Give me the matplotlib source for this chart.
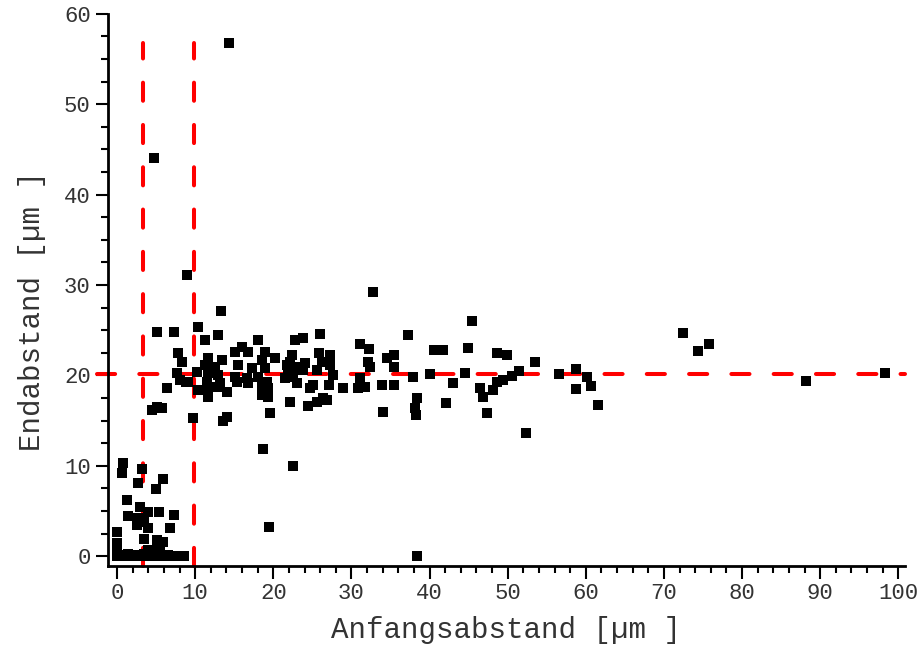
import numpy as np
import matplotlib
matplotlib.use('Agg')
import matplotlib.pyplot as plt
from matplotlib.ticker import MultipleLocator

# scatter data (start distance, end distance) in um
start_um = [
    14.3, 4.7, 9.0, 32.7, 13.3, 45.4, 72.4, 74.4, 75.7, 88.2, 98.3, 18.7, 22.5, 19.4, 38.4, 52.4,
    44.9, 44.5, 46.5, 46.8, 47.3, 48.1, 48.6, 49.9, 48.6, 49.4, 50.5, 51.5, 53.5, 56.5, 58.7, 58.7,
    60.1, 60.6, 61.5,
    43.0, 42.1, 41.7, 40.5, 40.0, 38.4, 38.1, 38.2, 37.9, 37.2, 35.5, 34.5, 35.5, 35.5, 33.9, 34.0,
    32.2, 31.1, 32.1, 32.4, 31.1, 31.7, 30.8, 28.9, 27.6, 27.2, 27.2, 27.1, 26.9, 26.0, 25.8, 26.2,
    25.6, 25.1, 24.7, 26.3, 25.6, 24.4, 23.8, 22.8, 22.4, 22.1, 21.7, 23.0, 23.8, 22.5, 23.0, 22.1,
    24.0,
    10.4, 12.9, 11.3, 18.0, 16.0, 15.1, 16.8, 18.9, 11.6, 13.4, 18.5, 20.2, 11.3, 12.5, 15.5, 17.3,
    18.9, 21.9, 10.2, 11.6, 12.9, 15.1, 16.6, 18.0, 21.5, 9.1, 11.5, 13.2, 15.3, 16.8, 19.2, 10.4,
    11.6, 12.9, 14.1, 11.6, 18.5, 19.3, 18.5, 19.3, 19.6, 9.7, 14.1, 13.6,
    5.1, 7.3, 7.8, 8.3, 7.7, 8.1, 8.8, 6.4, 5.1, 4.5, 5.8,
    0.8, 0.6, 3.2, 2.7, 5.9, 5.0, 1.3, 2.9, 1.4, 4.0, 5.4, 7.3, 2.7, 3.5, 2.6, 4.0,
    6.8, 0.0, 3.5, 5.1, 5.9, 5.5, 0.0, 0.0, 4.0, 4.6,
    0.0, 0.4, 0.9, 1.4, 1.9, 2.4, 2.9, 3.4, 3.9, 4.5, 5.0, 5.5, 6.0, 6.5, 7.0, 7.5, 8.6,
]
end_um = [
    56.8, 44.1, 31.1, 29.2, 27.1, 26.0, 24.7, 22.7, 23.5, 19.4, 20.3, 11.8, 10.0, 3.2, 0.0, 13.6,
    23.0, 20.3, 18.6, 17.6, 15.8, 18.4, 22.5, 22.3, 19.3, 19.5, 19.9, 20.5, 21.5, 20.2, 20.7, 18.5,
    19.8, 18.8, 16.7,
    19.2, 16.9, 22.8, 22.8, 20.2, 17.5, 16.4, 15.6, 19.8, 24.5, 22.3, 21.9, 20.9, 18.9, 18.9, 15.9,
    22.9, 23.5, 21.5, 20.9, 19.7, 18.7, 18.6, 18.6, 20.0, 22.3, 21.2, 18.9, 17.3, 24.6, 22.5, 21.5,
    20.6, 18.9, 18.6, 17.5, 17.1, 16.6, 24.1, 23.9, 22.3, 21.5, 21.2, 20.9, 20.6, 19.8, 19.2, 17.1,
    21.4,
    25.4, 24.5, 23.9, 23.9, 23.1, 22.6, 22.6, 22.6, 21.9, 21.7, 21.7, 21.9, 21.2, 20.9, 21.2, 20.8,
    20.8, 20.6, 20.4, 20.3, 20.0, 19.8, 19.7, 19.8, 19.7, 19.3, 19.3, 19.2, 19.3, 19.2, 19.3, 18.4,
    18.7, 18.7, 18.2, 17.6, 18.7, 18.6, 17.8, 17.6, 15.8, 15.3, 15.4, 15.0,
    24.8, 24.8, 22.5, 21.5, 20.3, 19.5, 19.3, 18.6, 16.5, 16.2, 16.4,
    10.3, 9.2, 9.6, 8.1, 8.5, 7.4, 6.2, 5.4, 4.4, 4.9, 4.9, 4.5, 4.2, 3.8, 3.4, 3.1,
    3.1, 2.7, 1.9, 1.8, 1.6, 1.1, 1.4, 0.9, 0.7, 0.7,
    0.0, 0.1, 0.0, 0.2, 0.0, 0.1, 0.0, 0.2, 0.0, 0.1, 0.0, 0.1, 0.0, 0.1, 0.0, 0.0, 0.0,
]

# reference lines
x_limits = [3.3, 9.8]
y_mean = 20.2

plt.rcParams['font.family'] = ['Liberation Mono', 'DejaVu Sans']

fig = plt.figure(figsize=(9.24, 6.59), dpi=100)
ax = fig.add_axes([0.117, 0.141, 0.862, 0.838])

ax.plot(start_um, end_um, 's', color='black', ms=7.5, mew=0, zorder=3)

red = dict(color='#ff0000', lw=2.9, dashes=(4.5, 6.0), dash_capstyle='round',
           solid_capstyle='round', zorder=2, clip_on=False)
ax.plot([-2.6, 100.8], [y_mean, y_mean], **red)
for xv in x_limits:
    ax.plot([xv, xv], [-1.1, 56.8], **red)

ax.set_xlim(-1.15, 100.8)
ax.set_ylim(-1.1, 60)
ax.xaxis.set_major_locator(MultipleLocator(10))
ax.xaxis.set_minor_locator(MultipleLocator(2))
ax.yaxis.set_major_locator(MultipleLocator(10))
ax.yaxis.set_minor_locator(MultipleLocator(2.5))

for s in ['top', 'right']:
    ax.spines[s].set_visible(False)
for s in ['left', 'bottom']:
    ax.spines[s].set_linewidth(2)
ax.tick_params(which='major', length=9, width=1.5, labelsize=16, labelcolor='#333333')
ax.tick_params(which='minor', length=5, width=1.5)

ax.set_xlabel('Anfangsabstand [µm ]', fontsize=21, color='#333333', labelpad=8)
ax.set_ylabel('Endabstand [µm ]', fontsize=21, color='#333333')
ax.yaxis.set_label_coords(-0.078, 0.462)

fig.savefig('out.png', dpi=100)
